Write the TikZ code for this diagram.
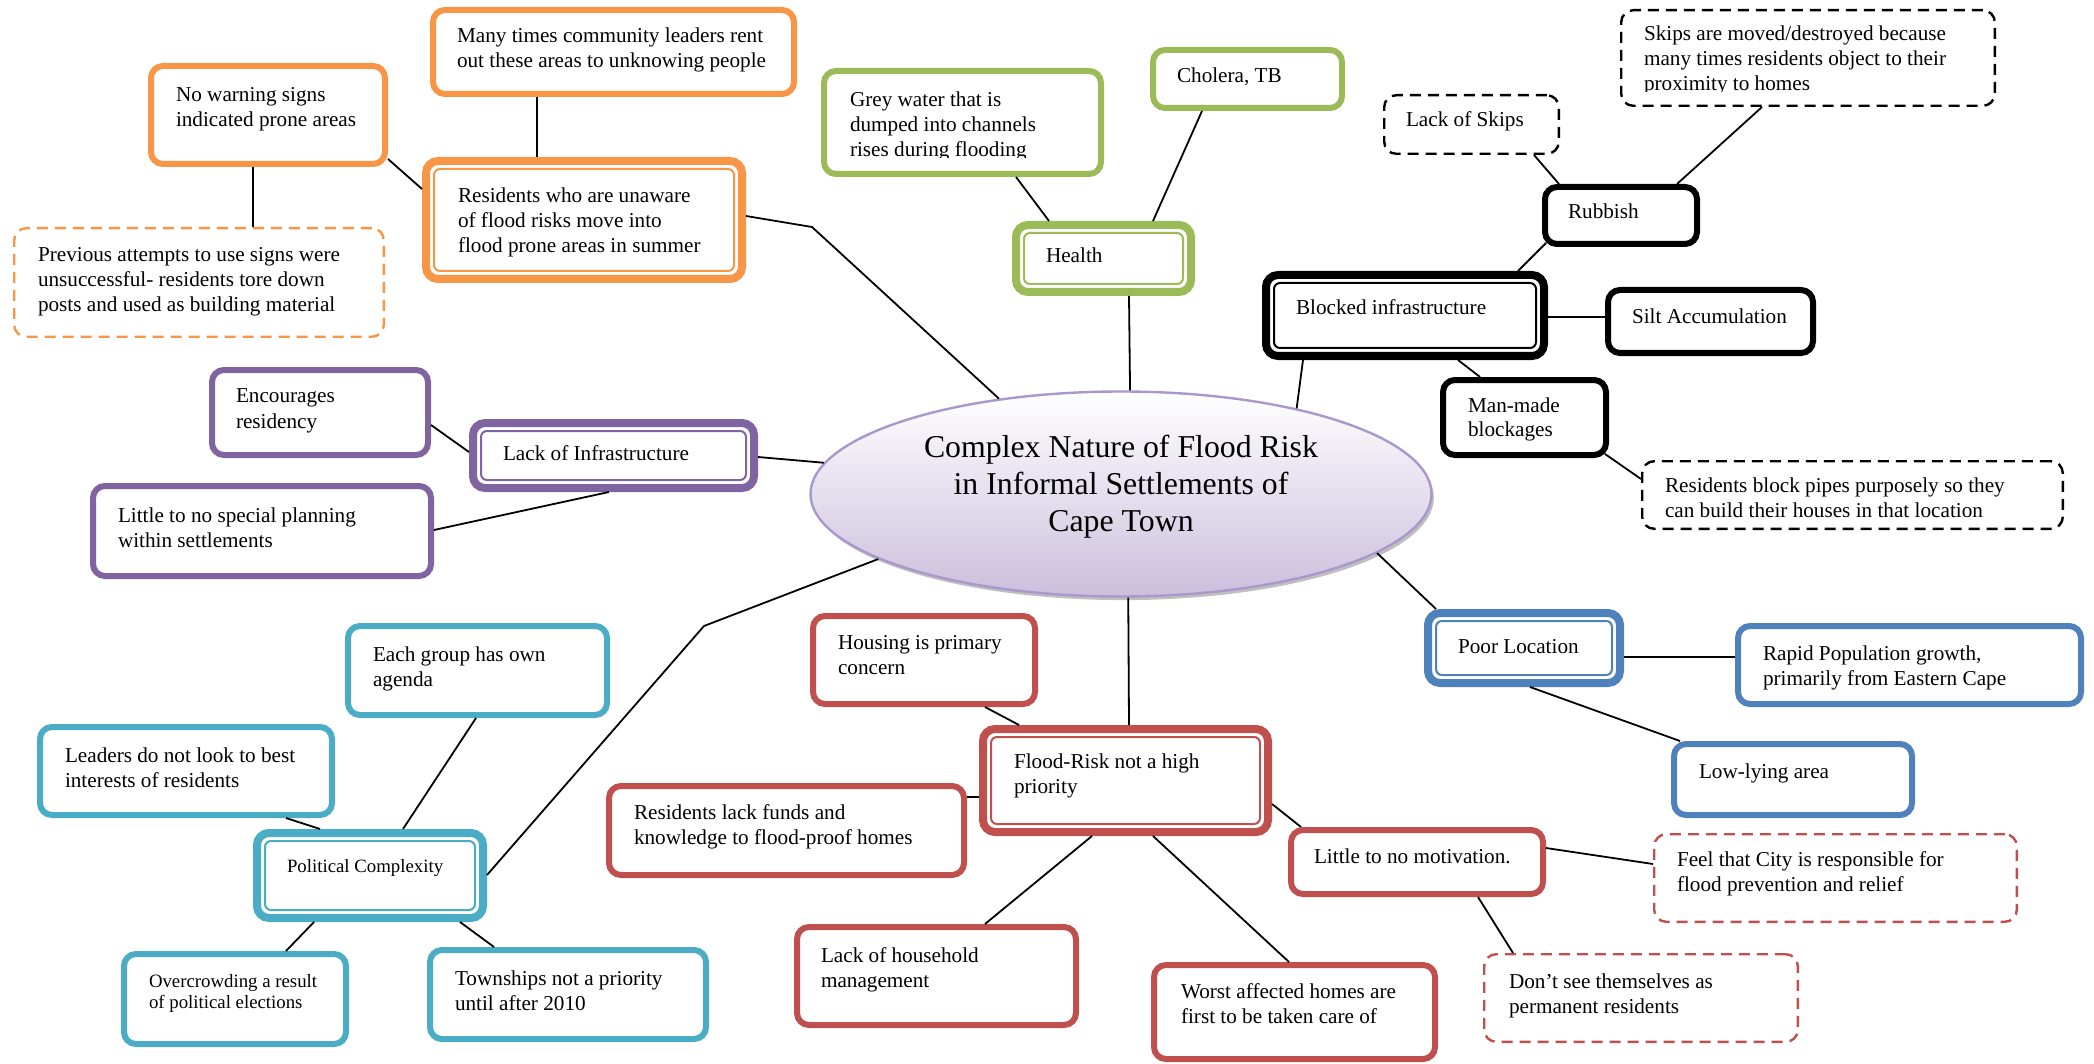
\documentclass[tikz,border=0pt]{standalone}
\usepackage{fontspec}
\setmainfont{Liberation Serif}
\usetikzlibrary{shapes.geometric,shadows,calc}
\definecolor{cor}{HTML}{F79646}
\definecolor{cgr}{HTML}{9BBB59}
\definecolor{cpu}{HTML}{8064A2}
\definecolor{ccy}{HTML}{4BACC6}
\definecolor{cre}{HTML}{C0504D}
\definecolor{cbl}{HTML}{4F81BD}
\definecolor{elb}{HTML}{A898CC}
\definecolor{ell}{HTML}{CBBFDC}
\tikzset{
 boxbase/.style={fill=white, rounded corners=6pt, font=\fontsize{10.6}{12.5}\selectfont},
 sgl/.style={boxbase, draw=#1, line width=3pt},
 dbl/.style={boxbase, draw=#1, line width=4pt},
 dsh/.style={boxbase, draw=#1, line width=1.2pt, dash pattern=on 5.5pt off 3.5pt},
 small/.style={font=\fontsize{9.4}{10.8}\selectfont},
 con/.style={line width=0.9pt, draw=black},
}
% #1 style, #2 name, #3 x1, #4 y1, #5 x2, #6 y2, #7 text left, #8 first baseline, #9 text
\newcommand\mybox[9]{\node[#1, inner sep=0pt, anchor=north west] (#2) at (#3,#4)
 {\parbox[c][\dimexpr(#6pt-#4pt)/2-\pgflinewidth\relax][t]{\dimexpr(#5pt-#3pt)/2-\pgflinewidth\relax}%
 {\raggedright\leftskip=\dimexpr(#7pt-#3pt)/2-0.5\pgflinewidth\relax
 \rightskip=-100pt plus 1fil\relax
 \rule{0pt}{\dimexpr(#8pt-#4pt)/2-0.5\pgflinewidth\relax}#9}};}
\newcommand\innerline[2]{\draw[#2, line width=1pt, rounded corners=3pt] ([shift={(6pt,-6pt)}]#1.north west) rectangle ([shift={(-6pt,6pt)}]#1.south east);}
\begin{document}
\begin{tikzpicture}[x=0.5pt,y=-0.5pt]
\useasboundingbox (0,0) rectangle (2094,1064);
\fill[white] (0,0) rectangle (2094,1064);

% central ellipse
\node[ellipse, draw=elb, line width=1.2pt, top color=white, bottom color=ell,
 minimum width=310.5pt, minimum height=102.5pt, inner sep=0pt,
 drop shadow={shadow xshift=1.2pt, shadow yshift=-1.8pt, fill=black!50, opacity=0.5}] (ce) at (1121,494)
 {\parbox[c][60pt][t]{200pt}{\centering\fontsize{15.9}{18.5}\selectfont\rule{0pt}{11.5pt}Complex Nature of Flood Risk\\in Informal Settlements of\\Cape Town}};

% orange
\mybox{sgl=cor}{mt}{430}{7}{797}{97}{457}{43}{Many times community leaders rent\\out these areas to unknowing people}
\mybox{sgl=cor}{nw}{148}{63}{388}{167}{176}{102}{No warning signs\\indicated prone areas}
\mybox{dsh=cor}{pa}{13}{227}{385}{338}{38}{262}{Previous attempts to use signs were\\unsuccessful- residents tore down\\posts and used as building material}
\mybox{dbl=cor}{ru}{422}{157}{746}{283}{458}{203}{Residents who are unaware\\of flood risks move into\\flood prone areas in summer}
% green
\mybox{sgl=cgr}{gw}{821}{68}{1104}{177}{850}{107}{Grey water that is\\dumped into channels\\rises during flooding}
\mybox{sgl=cgr}{ch}{1150}{47}{1345}{111}{1177}{83}{Cholera, TB}
\mybox{dbl=cgr}{he}{1012}{221}{1195}{296}{1046}{263}{Health}
% black
\mybox{dsh=black}{sk}{1620}{9}{1996}{107}{1644}{41}{Skips are moved/destroyed because\\many times residents object to their\\proximity to homes}
\mybox{dsh=black}{ls}{1383}{94}{1560}{155}{1406}{127}{Lack of Skips}
\mybox{sgl=black}{rb}{1542}{184}{1700}{247}{1568}{219}{Rubbish}
\mybox{dbl=black}{bi}{1262}{271}{1548}{360}{1296}{314}{Blocked infrastructure}
\mybox{sgl=black}{sa}{1605}{287}{1816}{356}{1632}{323}{Silt Accumulation}
\mybox{sgl=black}{mm}{1440}{377}{1609}{458}{1468}{412}{Man-made\\blockages}
\mybox{dsh=black}{rp}{1641}{460}{2064}{530}{1665}{492}{Residents block pipes purposely so they\\can build their houses in that location}
% purple
\mybox{sgl=cpu}{en}{209}{367}{431}{458}{236}{403}{Encourages\\residency}
\mybox{dbl=cpu}{li}{469}{419}{758}{492}{503}{461}{Lack of Infrastructure}
\mybox{sgl=cpu}{lp}{90}{483}{434}{579}{118}{522}{Little to no special planning\\within settlements}
% cyan
\mybox{sgl=ccy}{eg}{345}{623}{610}{718}{373}{661}{Each group has own\\agenda}
\mybox{sgl=ccy}{ld}{37}{724}{335}{818}{65}{762}{Leaders do not look to best\\interests of residents}
\mybox{dbl=ccy, small}{pc}{253}{829}{487}{922}{287}{872}{Political Complexity}
\mybox{sgl=ccy, small}{oc}{121}{951}{349}{1047}{149}{987}{Overcrowding a result\\of political elections}
\mybox{sgl=ccy}{tw}{427}{947}{709}{1042}{455}{985}{Townships not a priority\\until after 2010}
% red
\mybox{sgl=cre}{hp}{810}{613}{1038}{707}{838}{649}{Housing is primary\\concern}
\mybox{dbl=cre}{fr}{979}{725}{1272}{836}{1014}{768}{Flood-Risk not a high\\priority}
\mybox{sgl=cre}{rl}{606}{783}{967}{878}{634}{819}{Residents lack funds and\\knowledge to flood-proof homes}
\mybox{sgl=cre}{lh}{794}{924}{1079}{1028}{821}{962}{Lack of household\\management}
\mybox{sgl=cre}{wa}{1151}{962}{1438}{1062}{1181}{998}{Worst affected homes are\\first to be taken care of}
\mybox{sgl=cre}{lm}{1288}{827}{1546}{897}{1314}{863}{Little to no motivation.}
\mybox{dsh=cre}{fc}{1653}{833}{2018}{923}{1677}{866}{Feel that City is responsible for\\flood prevention and relief}
\mybox{dsh=cre}{ds}{1483}{953}{1799}{1043}{1509}{988}{Don’t see themselves as\\permanent residents}
% blue
\mybox{dbl=cbl}{pl}{1424}{609}{1624}{687}{1458}{653}{Poor Location}
\mybox{sgl=cbl}{rg}{1735}{623}{2084}{707}{1763}{660}{Rapid Population growth,\\primarily from Eastern Cape}
\mybox{sgl=cbl}{ll}{1671}{741}{1915}{818}{1699}{778}{Low-lying area}

% inner lines of double boxes
\innerline{ru}{cor}
\innerline{he}{cgr}
\innerline{bi}{black}
\innerline{li}{cpu}
\innerline{pc}{ccy}
\innerline{fr}{cre}
\innerline{pl}{cbl}

% text cut off at the bottom of frames
\fill[white] (832,158) rectangle (1094,170);
\fill[white] (1630,92) rectangle (1985,103);
\fill[white] (1650,518) rectangle (2055,527);

% elbows
\coordinate (e1) at (812,227);
\coordinate (e2) at (704,626);

% connectors
\draw[con] ([xshift=53.5pt]mt.south west) -- ([xshift=57.5pt]ru.north west);
\draw[con] ([yshift=-48pt]nw.north east) -- ([yshift=-16pt]ru.north west);
\draw[con] ([xshift=52.5pt]nw.south west) -- ([xshift=120pt]pa.north west);
\draw[con] ([yshift=-29.5pt]ru.north east) -- (e1) -- (ce.142.8);
\draw[con] ([xshift=97.5pt]gw.south west) -- ([xshift=18.5pt]he.north west);
\draw[con] ([xshift=26pt]ch.south west) -- ([xshift=70.5pt]he.north west);
\draw[con] ([xshift=58.5pt]he.south west) -- (ce.85.5);
\draw[con] ([xshift=75.5pt]ls.south west) -- ([xshift=8.5pt]rb.north west);
\draw[con] ([xshift=71pt]sk.south west) -- ([xshift=67.5pt]rb.north west);
\draw[con] ([shift={(2pt,2pt)}]rb.south west) -- ([xshift=128pt]bi.north west);
\draw[con] ([yshift=-23pt]bi.north east) -- ([yshift=-15pt]sa.north west);
\draw[con] ([xshift=98pt]bi.south west) -- ([xshift=20pt]mm.north west);
\draw[con] ([shift={(-2pt,2pt)}]mm.south east) -- ([yshift=-9.5pt]rp.north west);
\draw[con] ([xshift=20.5pt]bi.south west) -- (ce.26.7);
\draw[con] ([yshift=-29pt]en.north east) -- ([yshift=-16.5pt]li.north west);
\draw[con] ([yshift=-23.5pt]lp.north east) -- ([xshift=70pt]li.south west);
\draw[con] ([yshift=-19pt]li.north east) -- (ce.174.8);
\draw[con] (ce.195.6) -- (e2) -- ([yshift=-23pt]pc.north east);
\draw[con] ([xshift=124.5pt]ld.south west) -- ([xshift=33.5pt]pc.north west);
\draw[con] ([xshift=65.5pt]eg.south west) -- ([xshift=75pt]pc.north west);
\draw[con] ([xshift=30.5pt]pc.south west) -- ([xshift=82.5pt]oc.north west);
\draw[con] ([xshift=103.5pt]pc.south west) -- ([xshift=33.5pt]tw.north west);
\draw[con] (ce.274.5) -- ([xshift=75pt]fr.north west);
\draw[con] ([xshift=87.5pt]hp.south west) -- ([xshift=20pt]fr.north west);
\draw[con] ([yshift=-7pt]rl.north east) -- ([yshift=-36pt]fr.north west);
\draw[con] ([xshift=56.5pt]fr.south west) -- ([xshift=95.5pt]lh.north west);
\draw[con] ([xshift=87pt]fr.south west) -- ([xshift=69pt]wa.north west);
\draw[con] ([yshift=-39.5pt]fr.north east) -- ([xshift=6.5pt]lm.north west);
\draw[con] ([yshift=-10.5pt]lm.north east) -- ([yshift=-15.5pt]fc.north west);
\draw[con] ([xshift=95pt]lm.south west) -- ([xshift=15pt]ds.north west);
\draw[con] (ce.347) -- ([xshift=6pt]pl.north west);
\draw[con] ([yshift=-24pt]pl.north east) -- ([yshift=-17pt]rg.north west);
\draw[con] ([xshift=53pt]pl.south west) -- ([xshift=4.5pt]ll.north west);
\end{tikzpicture}
\end{document}
